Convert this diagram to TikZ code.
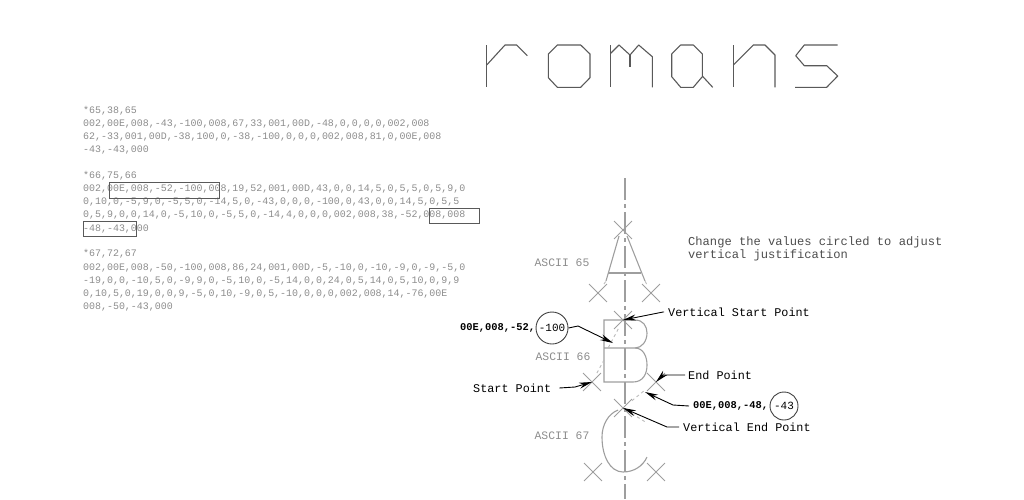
\documentclass[tikz,border=0pt]{standalone}
\usepackage{fontspec}
\setmonofont{Liberation Mono}
\usetikzlibrary{arrows.meta}
\usetikzlibrary{shapes.misc}
\definecolor{codegray}{gray}{0.55}
\definecolor{linegray}{gray}{0.62}
\tikzset{
  codeline/.style={anchor=west,inner sep=0pt,text=codegray,font=\ttfamily\fontsize{9.95}{10}\selectfont},
  asciilabel/.style={inner sep=0pt,text=codegray,font=\ttfamily\fontsize{11.4}{11}\selectfont},
  notelabel/.style={anchor=west,inner sep=0pt,text=black!70,font=\ttfamily\fontsize{12.1}{12}\selectfont},
  calllabel/.style={anchor=west,inner sep=0pt,text=black,font=\ttfamily\fontsize{11.8}{12}\selectfont},
  valuelabel/.style={anchor=west,inner sep=0pt,text=black,font=\ttfamily\bfseries\fontsize{10.4}{11}\selectfont},
  valuering/.style={circle,draw=black!75,line width=.9pt,inner sep=0pt,text=black,font=\ttfamily\fontsize{11}{11}\selectfont},
  codebox/.style={draw=black!65,line width=1pt},
  romanline/.style={draw=black!65,line width=1.1pt,line join=round},
  glyphline/.style={draw=linegray,line width=1.1pt},
  crossmk/.style={cross out,draw=linegray,line width=.9pt,inner sep=0pt,minimum size=#1},
  crossmk/.default=17pt,
  stub/.style={draw=linegray!70,line width=.9pt,dashed},
  leader/.style={draw=black,line width=.9pt,-{Stealth[length=13pt,width=6pt]}},
}
\begin{document}
\begin{tikzpicture}[x=1pt,y=-1pt]
 \useasboundingbox (0,0) rectangle (1024,499);
 % title
 \draw[romanline] (486.7,45) -- (486.7,87.3);
 \draw[romanline] (486.7,65) -- (505,45) -- (516.7,45) -- (527.3,55.7);
 \draw[romanline] (557.3,45) -- (580.7,45) -- (590,54) -- (590,77.7) -- (580.7,87.3) -- (557.3,87.3) -- (548.3,77.7) -- (548.3,54) -- cycle;
 \draw[romanline] (610.7,45) -- (610.7,87.3);
 \draw[romanline] (610.7,53.3) -- (619,45) -- (630,55) -- (638.7,45) -- (652.3,56.7) -- (652.3,87.3);
 \draw[romanline] (630,55) -- (630,66.7);
 \draw[romanline] (680.7,45) -- (693.3,45) -- (702.3,54) -- (702.3,76.7) -- (693.3,87.3) -- (680.7,87.3) -- (671.7,76.7) -- (671.7,54) -- cycle;
 \draw[romanline] (702.3,76) -- (712.7,87.3);
 \draw[romanline] (733.3,45) -- (733.3,87.3);
 \draw[romanline] (733.3,65) -- (753.3,45) -- (765,45) -- (775,55) -- (775,87.3);
 \draw[romanline] (837.7,45) -- (804.3,45) -- (795.7,55.7) -- (804.3,65.7) -- (826.7,65.7) -- (837.7,76) -- (826.7,87.3) -- (795,87.3);
 % shape code
 \node[codeline] (codeAa) at (83,111) {*65,38,65};
 \node[codeline] (codeAb) at (83,124) {002,00E,008,-43,-100,008,67,33,001,00D,-48,0,0,0,0,002,008};
 \node[codeline] (codeAc) at (83,137) {62,-33,001,00D,-38,100,0,-38,-100,0,0,0,002,008,81,0,00E,008};
 \node[codeline] (codeAd) at (83,150) {-43,-43,000};
 \node[codeline] (codeBa) at (83,176) {*66,75,66};
 \node[codeline] (codeBb) at (83,189) {002,00E,008,-52,-100,008,19,52,001,00D,43,0,0,14,5,0,5,5,0,5,9,0};
 \node[codeline] (codeBc) at (83,202) {0,10,0,-5,9,0,-5,5,0,-14,5,0,-43,0,0,0,-100,0,43,0,0,14,5,0,5,5};
 \node[codeline] (codeBd) at (83,215) {0,5,9,0,0,14,0,-5,10,0,-5,5,0,-14,4,0,0,0,002,008,38,-52,008,008};
 \node[codeline] (codeBe) at (83,229) {-48,-43,000};
 \node[codeline] (codeCa) at (83,254) {*67,72,67};
 \node[codeline] (codeCb) at (83,268) {002,00E,008,-50,-100,008,86,24,001,00D,-5,-10,0,-10,-9,0,-9,-5,0};
 \node[codeline] (codeCc) at (83,281) {-19,0,0,-10,5,0,-9,9,0,-5,10,0,-5,14,0,0,24,0,5,14,0,5,10,0,9,9};
 \node[codeline] (codeCd) at (83,294) {0,10,5,0,19,0,0,9,-5,0,10,-9,0,5,-10,0,0,0,002,008,14,-76,00E};
 \node[codeline] (codeCe) at (83,307) {008,-50,-43,000};
 \draw[codebox] (109,182) rectangle (219,198);
 \draw[codebox] (429,208) rectangle (479,223);
 \draw[codebox] (83,221) rectangle (136,236);
 % centre line
 \draw[glyphline,dash pattern=on 22pt off 4pt on 4pt off 4pt] (625,178) -- (625,499);
 % ascii 65
 \draw[glyphline] (619,236) -- (606,281);
 \draw[glyphline] (627,236) -- (645,281);
 \draw[glyphline] (608,273) -- (641,273);
 \node[crossmk] (aTop) at (623,230) {};
 \node[crossmk] (aLeft) at (598,293) {};
 \node[crossmk] (aRight) at (651,293) {};
 \draw[stub] (aLeft) -- (606,281);
 \draw[stub] (aRight) -- (645,281);
 % ascii 66
 \draw[glyphline] (635,320) -- (604,320) -- (604,382) -- (633,382)
   .. controls (643,382) and (647,374) .. (647,365)
   .. controls (647,356) and (643,348) .. (635,348) -- (604,348);
 \draw[glyphline] (635,320) .. controls (643,320) and (647,326) .. (647,333)
   .. controls (647,341) and (642,348) .. (635,348);
 \node[crossmk] (bTop) at (623,320) {};
 \node[crossmk] (bStart) at (592,382) {};
 \node[crossmk] (bEnd) at (656,382) {};
 \node[crossmk] (cTop) at (623,408) {};
 \draw[stub] (bTop) -- (607,350);
 \draw[stub] (bStart) -- (604,360);
 \draw[stub] (bEnd) -- (647,373);
 \draw[stub] (cTop) -- (645,390);
 \draw[stub] (cTop) -- (647,423);
 % ascii 67
 \draw[glyphline] (618,410) .. controls (608,414) and (602,425) .. (602,437)
   .. controls (602,456) and (610,472) .. (623,472)
   .. controls (634,472) and (643,466) .. (647,457);
 \node[crossmk] (cLeft) at (593,472) {};
 \node[crossmk] (cRight) at (656,472) {};
 \node[asciilabel] (asciiA) at (562,263) {ASCII 65};
 \node[asciilabel] (asciiB) at (563,357) {ASCII 66};
 \node[asciilabel] (asciiC) at (562,436) {ASCII 67};
 % notes
 \node[notelabel] (noteA) at (688,242) {Change the values circled to adjust};
 \node[notelabel] (noteB) at (688,255) {vertical justification};
 \node[valuelabel] (valB) at (460,328) {00E,008,-52,};
 \node[valuering,minimum size=32pt] (ringB) at (552,328) {-100};
 \node[calllabel] (startlbl) at (473,388) {Start Point};
 \node[calllabel] (vstartlbl) at (668,312) {Vertical Start Point};
 \node[calllabel] (endlbl) at (688,375) {End Point};
 \node[valuelabel] (valE) at (693,406) {00E,008,-48,};
 \node[valuering,minimum size=28pt] (ringE) at (784,406) {-43};
 \node[calllabel] (vendlbl) at (683,427) {Vertical End Point};
 \coordinate (tipB) at (613,343);
 \coordinate (tipE) at (645,392);
 \draw[leader] (ringB.east) -- (578,326) -- (tipB);
 \draw[leader] (startlbl.east) ++(8,0) -- (575,387) -- (bStart.center);
 \draw[leader] (vstartlbl.west) ++(-4,0) -- (663,312) -- (bTop.center);
 \draw[leader] (endlbl.west) ++(-3,0) -- (663,375) -- (bEnd.center);
 \draw[leader] (valE.west) ++(-4,0) -- (673,405) -- (tipE);
 \draw[leader] (vendlbl.west) ++(-4,0) -- (667,427) -- (cTop.center);
\end{tikzpicture}
\end{document}
